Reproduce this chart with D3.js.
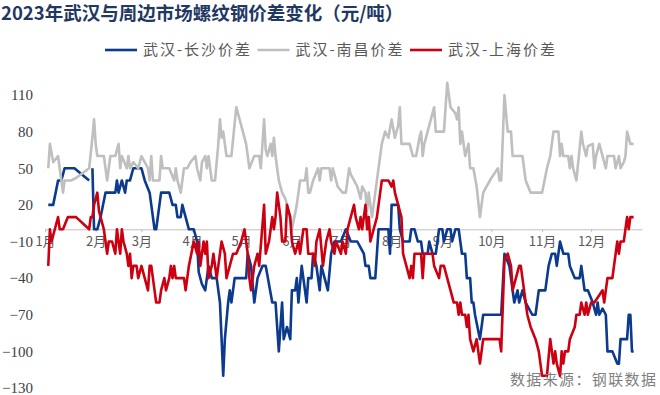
<!DOCTYPE html>
<html>
<head>
<meta charset="utf-8">
<script src="https://cdn.jsdelivr.net/npm/d3@7"></script>
<style>
  body { margin: 0; background: #fff; }
  svg { display: block; }
</style>
</head>
<body>
<svg id="chart" width="660" height="395"></svg>
<script>
var titleText = "2023年武汉与周边市场螺纹钢价差变化（元/吨）";
var sourceText = "数据来源：钢联数据";
var seriesNames = ["武汉-长沙价差", "武汉-南昌价差", "武汉-上海价差"];
var yTicks = [110, 80, 50, 20, -10, -40, -70, -100, -130];
var monthLabels = ["1月", "2月", "3月", "4月", "5月", "6月", "7月", "8月", "9月", "10月", "11月", "12月"];

// [date (MM-DD, 2023), value]
var wuhanChangsha = [
  ["01-03",20],["01-06",20],["01-09",40],["01-11",40],["01-13",50],["01-17",50],["01-19",50],["01-28",40],
  ["01-29",null],["01-30",50],["01-31",0],["02-02",0],["02-04",10],["02-07",30],["02-13",30],["02-14",40],
  ["02-15",30],["02-17",40],["02-19",30],["02-20",40],["02-22",40],["02-24",50],["02-27",50],["03-01",50],
  ["03-03",40],["03-06",30],["03-07",20],["03-09",0],["03-10",0],["03-13",30],["03-18",30],["03-20",20],
  ["03-22",20],["03-23",10],["03-25",10],["03-26",20],["03-28",10],["03-30",0],["04-02",0],["04-04",-10],
  ["04-05",-35],["04-07",-45],["04-09",-50],["04-11",-30],["04-13",-40],["04-16",-40],["04-18",-60],
  ["04-20",-120],["04-21",-90],["04-23",-60],["04-24",-50],["04-25",-60],["04-27",-40],["05-04",-40],
  ["05-05",-20],["05-07",-30],["05-09",-60],["05-11",-40],["05-14",-30],["05-16",-30],["05-20",-60],
  ["05-22",-60],["05-24",-100],["05-26",-60],["05-27",-90],["05-29",-80],["05-31",-90],["06-01",-50],
  ["06-03",-50],["06-04",-40],["06-05",-60],["06-07",-30],["06-08",-40],["06-10",-60],["06-11",-40],
  ["06-13",-40],["06-14",-20],["06-16",-30],["06-18",-50],["06-19",-30],["06-23",-50],["06-25",-20],
  ["06-27",-10],["07-01",-10],["07-04",0],["07-07",-10],["07-11",-10],["07-13",-15],["07-15",-20],
  ["07-16",-30],["07-18",-30],["07-19",-40],["07-22",-40],["07-24",0],["07-30",0],["07-31",-20],
  ["08-01",20],["08-05",20],["08-06",0],["08-08",-10],["08-12",-10],["08-13",0],["08-15",0],["08-17",-10],
  ["08-19",-10],["08-20",-20],["08-23",-20],["08-24",-10],["08-26",-20],["08-28",-20],["08-30",0],
  ["09-01",0],["09-02",-10],["09-04",0],["09-06",0],["09-07",-10],["09-09",0],["09-11",0],["09-12",-10],
  ["09-13",-20],["09-15",-20],["09-16",-40],["09-18",-40],["09-19",-60],["09-20",-60],["09-21",-70],
  ["09-24",-90],["09-26",-70],["10-07",-70],["10-09",-20],["10-12",-30],["10-15",-60],["10-17",-50],
  ["10-18",-60],["10-20",-50],["10-22",-60],["10-26",-70],["10-28",-70],["10-30",-50],["11-03",-50],
  ["11-05",-30],["11-07",-20],["11-09",-20],["11-10",-30],["11-12",-10],["11-14",-20],["11-17",-20],
  ["11-18",-30],["11-21",-40],["11-24",-40],["11-25",-30],["11-27",-50],["11-29",-50],["12-02",-60],
  ["12-04",-70],["12-05",-60],["12-06",-70],["12-08",-65],["12-10",-70],["12-11",-100],["12-14",-100],
  ["12-17",-110],["12-18",-110],["12-19",-90],["12-23",-90],["12-24",-70],["12-25",-70],["12-26",-100],
  ["12-27",-100]
];

var wuhanNanchang = [
  ["01-03",50],["01-04",70],["01-06",55],["01-09",60],["01-10",50],["01-12",30],["01-13",40],["01-17",40],
  ["01-20",42],["01-28",50],["01-30",75],["01-31",90],["02-01",70],["02-02",60],["02-06",60],["02-07",50],
  ["02-08",40],["02-10",60],["02-13",60],["02-15",70],["02-16",50],["02-17",60],["02-20",50],["02-21",60],
  ["02-22",50],["02-24",55],["02-27",50],["03-01",60],["03-03",55],["03-05",50],["03-06",40],["03-07",60],
  ["03-08",40],["03-12",40],["03-13",60],["03-14",50],["03-18",50],["03-21",40],["03-22",50],["03-23",40],
  ["03-25",30],["03-27",50],["03-29",50],["03-31",55],["04-03",60],["04-04",50],["04-06",40],["04-07",55],
  ["04-09",60],["04-10",50],["04-11",60],["04-13",40],["04-15",40],["04-17",70],["04-18",90],["04-19",75],
  ["04-20",80],["04-22",60],["04-25",60],["04-28",100],["04-30",90],["05-02",80],["05-04",70],["05-06",50],
  ["05-09",60],["05-12",60],["05-13",50],["05-15",90],["05-16",65],["05-17",60],["05-19",70],["05-20",60],
  ["05-21",75],["05-22",60],["05-24",40],["05-26",30],["05-28",25],["05-30",15],["06-01",0],["06-04",20],
  ["06-06",40],["06-09",40],["06-10",50],["06-11",30],["06-12",30],["06-14",40],["06-17",50],["06-18",40],
  ["06-19",50],["06-24",50],["06-25",40],["06-26",50],["06-28",40],["06-29",35],["07-02",30],["07-04",30],
  ["07-06",50],["07-07",45],["07-09",40],["07-11",35],["07-13",25],["07-14",35],["07-16",30],["07-17",15],
  ["07-18",30],["07-20",10],["07-22",30],["07-24",50],["07-26",70],["07-28",80],["07-30",75],["08-01",90],
  ["08-03",75],["08-05",85],["08-06",100],["08-07",70],["08-12",70],["08-14",60],["08-16",60],["08-18",75],
  ["08-19",80],["08-20",60],["08-21",70],["08-25",90],["08-27",100],["08-28",80],["09-02",80],["09-04",120],
  ["09-06",100],["09-09",95],["09-10",90],["09-11",100],["09-12",70],["09-13",80],["09-15",60],["09-17",70],
  ["09-18",50],["09-20",50],["09-22",35],["09-24",10],["09-26",30],["09-28",35],["10-01",42],["10-05",50],
  ["10-06",40],["10-07",40],["10-09",110],["10-11",80],["10-13",80],["10-14",60],["10-20",60],["10-22",40],
  ["10-25",30],["11-01",30],["11-04",50],["11-06",60],["11-08",80],["11-11",80],["11-12",60],["11-13",70],
  ["11-14",60],["11-17",60],["11-18",50],["11-19",60],["11-20",50],["11-22",40],["11-25",80],["11-26",70],
  ["11-28",60],["11-29",68],["12-02",70],["12-03",50],["12-04",60],["12-06",70],["12-08",60],["12-10",50],
  ["12-11",60],["12-15",60],["12-16",50],["12-18",60],["12-19",50],["12-21",55],["12-22",60],["12-23",80],
  ["12-25",70],["12-27",70]
];

var wuhanShanghai = [
  ["01-03",-30],["01-04",0],["01-05",-10],["01-09",10],["01-10",0],["01-12",0],["01-15",10],["01-20",10],
  ["01-28",0],["01-29",10],["01-30",10],["01-31",20],["02-02",30],["02-03",15],["02-06",0],["02-07",-10],
  ["02-08",-20],["02-09",-10],["02-11",-10],["02-13",-20],["02-14",0],["02-15",-10],["02-16",-20],
  ["02-17",0],["02-18",-10],["02-20",-20],["02-21",-30],["02-22",-20],["02-23",-40],["02-24",-30],
  ["02-26",-30],["02-27",-40],["03-01",-30],["03-03",-40],["03-05",-50],["03-06",-30],["03-07",-30],
  ["03-08",-40],["03-09",-50],["03-10",-60],["03-12",-60],["03-13",-50],["03-15",-40],["03-16",-50],
  ["03-18",-40],["03-19",-30],["03-20",-40],["03-21",-30],["03-22",-40],["03-27",-40],["03-28",-50],
  ["03-30",-30],["04-02",-10],["04-04",-20],["04-05",-10],["04-06",-30],["04-08",-10],["04-09",-20],
  ["04-10",-10],["04-11",-40],["04-13",-30],["04-14",-20],["04-16",-40],["04-17",-30],["04-19",-10],
  ["04-21",-20],["04-22",-40],["04-24",-30],["04-26",-20],["04-28",-20],["05-01",-10],["05-03",0],
  ["05-05",-20],["05-06",-40],["05-07",-50],["05-08",-40],["05-09",-30],["05-11",-20],["05-12",-30],
  ["05-15",20],["05-16",-20],["05-18",-10],["05-20",10],["05-21",0],["05-22",10],["05-23",30],["05-25",10],
  ["05-26",-10],["05-28",-10],["05-29",20],["05-31",10],["06-01",-10],["06-03",-20],["06-05",-10],
  ["06-06",-20],["06-08",0],["06-10",0],["06-11",-20],["06-14",-20],["06-15",-30],["06-16",-10],
  ["06-18",0],["06-20",-30],["06-21",-20],["06-22",-10],["06-24",0],["06-25",-10],["06-27",-20],
  ["06-28",-10],["07-01",-20],["07-02",-10],["07-04",-20],["07-05",0],["07-07",10],["07-09",20],
  ["07-10",10],["07-12",0],["07-13",10],["07-14",0],["07-16",20],["07-17",0],["07-18",10],["07-19",-10],
  ["07-21",0],["07-23",10],["07-25",30],["07-26",40],["07-30",40],["08-01",35],["08-02",40],["08-03",30],
  ["08-05",20],["08-07",10],["08-08",-20],["08-10",-30],["08-12",-40],["08-13",-30],["08-14",-40],
  ["08-15",-20],["08-19",-20],["08-20",-40],["08-21",-20],["08-24",-20],["08-26",-20],["08-27",-30],
  ["08-30",-40],["08-31",-30],["09-02",-30],["09-04",-40],["09-06",-50],["09-08",-60],["09-10",-60],
  ["09-11",-70],["09-12",-60],["09-13",-70],["09-15",-70],["09-16",-80],["09-17",-70],["09-18",-90],
  ["09-20",-100],["09-22",-90],["09-24",-110],["09-26",-90],["10-06",-90],["10-07",-100],["10-09",-25],
  ["10-11",-20],["10-13",-30],["10-14",-50],["10-16",-40],["10-18",-30],["10-19",-30],["10-21",-50],
  ["10-23",-70],["10-25",-80],["10-28",-90],["10-30",-100],["10-31",-110],["11-01",-120],["11-04",-120],
  ["11-06",-90],["11-08",-110],["11-09",-100],["11-10",-110],["11-12",-120],["11-13",-100],["11-14",-110],
  ["11-15",-100],["11-17",-100],["11-18",-90],["11-21",-80],["11-22",-70],["11-24",-70],["11-25",-60],
  ["11-27",-70],["11-28",-60],["11-29",-70],["12-01",-60],["12-03",-60],["12-08",-50],["12-09",-60],
  ["12-11",-40],["12-14",-40],["12-16",-20],["12-17",-10],["12-18",-20],["12-19",-10],["12-21",-10],
  ["12-22",0],["12-23",10],["12-24",0],["12-25",10],["12-27",10]
];

var parseDay = d3.timeParse("%Y-%m-%d");
function toPoints(arr) {
  return arr.map(function (d) { return { date: parseDay("2023-" + d[0]), value: d[1] }; });
}

var svg = d3.select("#chart");
var cjk = "'Noto Sans CJK SC', 'Noto Sans', sans-serif";

var x = d3.scaleTime()
  .domain([parseDay("2023-01-01"), parseDay("2024-01-01")])
  .range([45, 641.8]);
var y = d3.scaleLinear()
  .domain([-130, 110])
  .range([388, 95]);

// title
svg.append("text")
  .attr("x", 1)
  .attr("y", 20)
  .style("font-family", cjk)
  .style("font-size", "18.5px")
  .style("font-weight", "bold")
  .style("fill", "#1F3864")
  .text(titleText);

// y axis labels
var yAxis = svg.append("g")
  .attr("transform", "translate(37,0)")
  .call(d3.axisLeft(y).tickValues(yTicks).tickSize(0).tickPadding(4).tickFormat(d3.format("d")));
yAxis.select(".domain").remove();
yAxis.selectAll("text")
  .style("font-family", "'Liberation Serif', 'DejaVu Serif', serif")
  .style("font-size", "15px")
  .style("fill", "#404040");

// x axis on the zero line
var monthStarts = d3.timeMonth.range(parseDay("2023-01-01"), parseDay("2024-01-01"));
var xAxis = svg.append("g")
  .attr("transform", "translate(0," + y(0) + ")")
  .call(d3.axisBottom(x)
    .tickValues(monthStarts)
    .tickSizeInner(3)
    .tickSizeOuter(0)
    .tickPadding(4)
    .tickFormat(function (d, i) { return monthLabels[i]; }));
xAxis.select(".domain").attr("stroke", "#BFBFBF").attr("stroke-width", 1);
xAxis.selectAll(".tick line").attr("stroke", "#BFBFBF");
xAxis.selectAll("text")
  .style("font-family", cjk)
  .style("font-size", "13px")
  .style("fill", "#595959");

// series
var line = d3.line()
  .defined(function (d) { return d.value !== null; })
  .x(function (d) { return x(d.date); })
  .y(function (d) { return y(d.value); });

var series = [
  { name: seriesNames[0], points: toPoints(wuhanChangsha), color: "#0B3A8E" },
  { name: seriesNames[1], points: toPoints(wuhanNanchang), color: "#BFBFBF" },
  { name: seriesNames[2], points: toPoints(wuhanShanghai), color: "#CC0011" }
];

svg.append("g").selectAll("path")
  .data(series)
  .enter()
  .append("path")
  .attr("d", function (d) { return line(d.points); })
  .attr("fill", "none")
  .attr("stroke", function (d) { return d.color; })
  .attr("stroke-width", 2.6)
  .attr("stroke-linejoin", "round");

// legend
var legend = svg.append("g").selectAll("g")
  .data(series)
  .enter()
  .append("g")
  .attr("transform", function (d, i) { return "translate(" + (105 + i * 152.5) + ",50)"; });
legend.append("line")
  .attr("x1", 0).attr("x2", 32)
  .attr("y1", 0).attr("y2", 0)
  .attr("stroke", function (d) { return d.color; })
  .attr("stroke-width", 2.6);
legend.append("text")
  .attr("x", 38)
  .attr("y", 0)
  .attr("dy", "0.35em")
  .attr("textLength", 107)
  .style("font-family", cjk)
  .style("font-size", "15px")
  .style("fill", "#595959")
  .text(function (d) { return d.name; });

// source
svg.append("text")
  .attr("x", 510)
  .attr("y", 380)
  .attr("dy", "0.35em")
  .attr("textLength", 146)
  .style("font-family", cjk)
  .style("font-size", "15px")
  .style("fill", "#7F7F7F")
  .text(sourceText);
</script>
</body>
</html>
